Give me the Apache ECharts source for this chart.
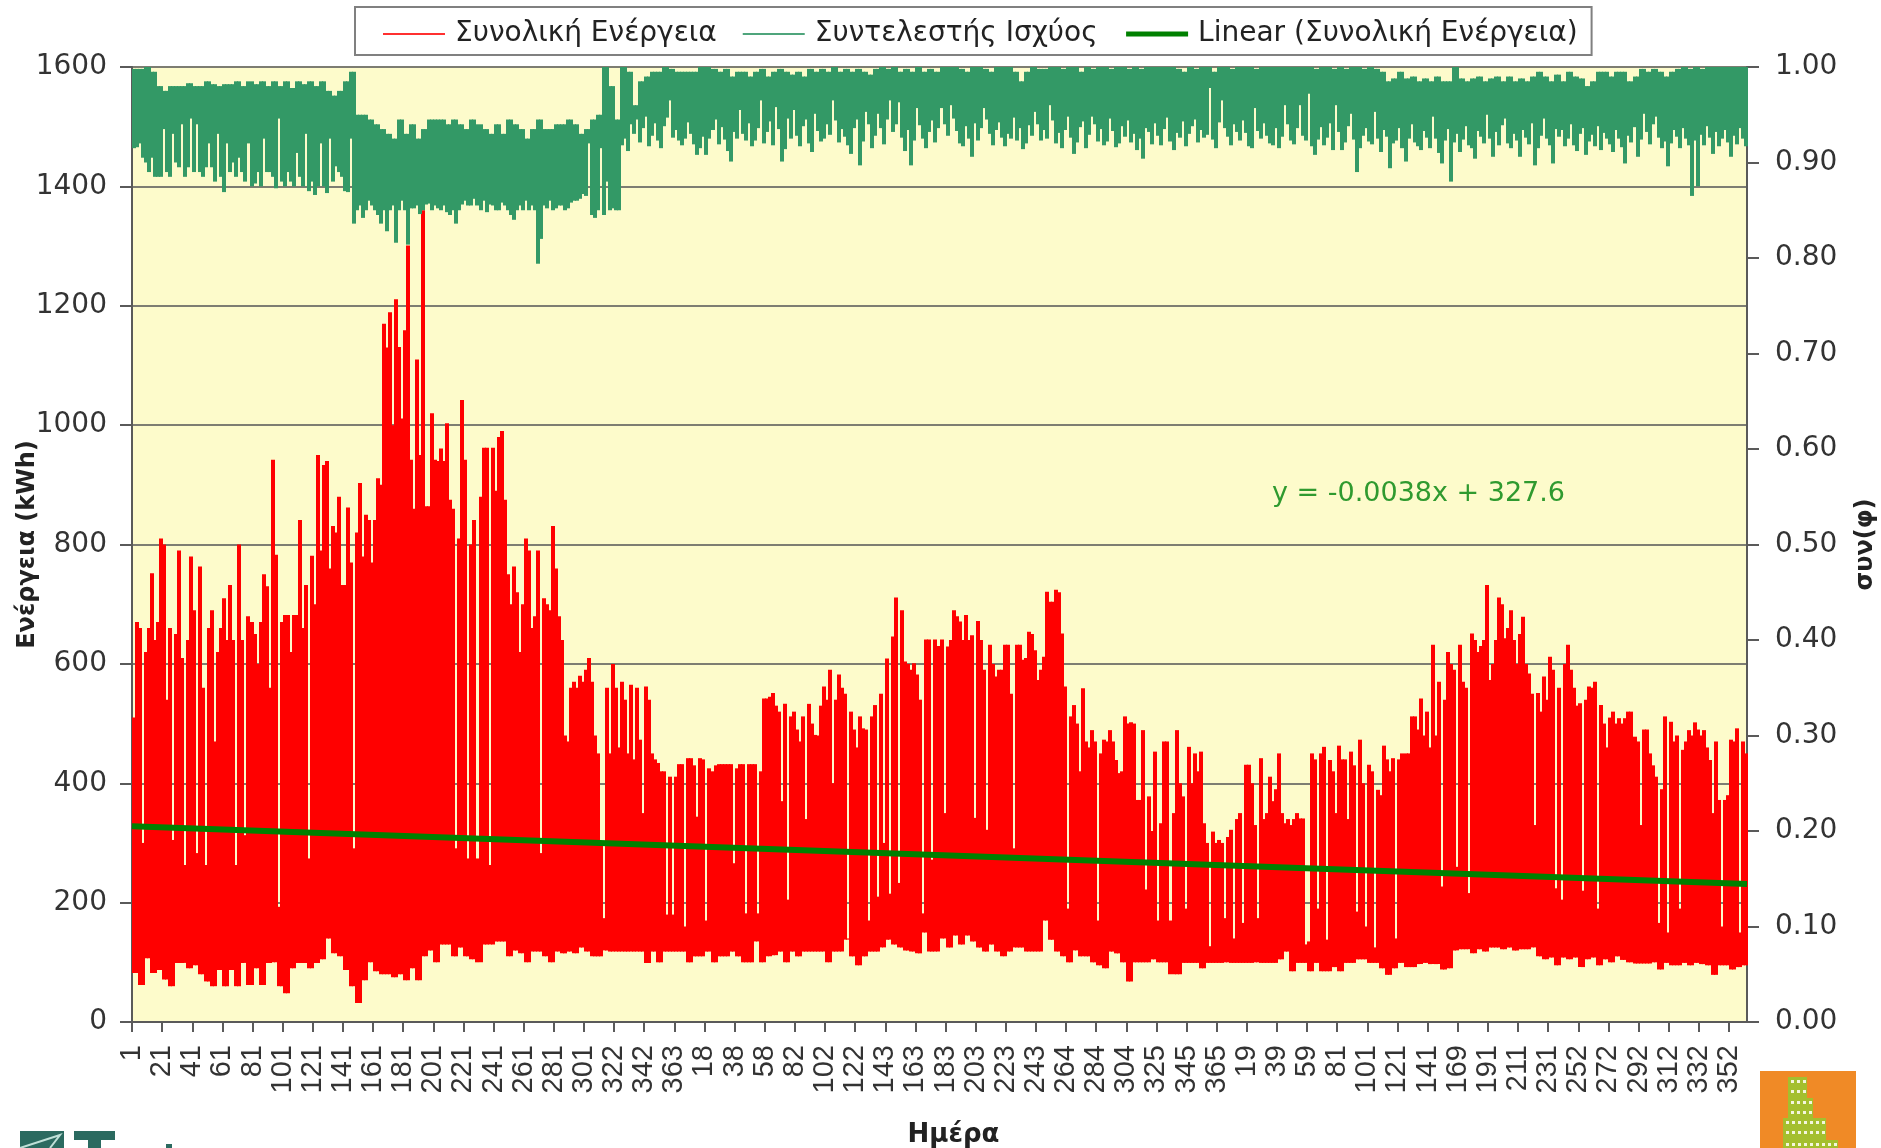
<!DOCTYPE html>
<html>
<head>
<meta charset="utf-8">
<style>html,body{margin:0;padding:0;background:#fff}#chart{width:1881px;height:1148px}</style>
<script src="https://cdn.jsdelivr.net/npm/echarts@6/dist/echarts.min.js"></script>
</head>
<body>
<div id="chart"></div>
<script>
// tick labels, one every 10 columns
const dayTicks = [1,21,41,61,81,101,121,141,161,181,201,221,241,261,281,301,322,342,363,18,38,58,82,102,122,143,163,183,203,223,243,264,284,304,325,345,365,19,39,59,81,101,121,141,169,191,211,231,252,272,292,312,332,352];

// Συνολική Ενέργεια: top of each column (kWh)
const energyHigh = [
510,670,660,300,620,660,752,640,670,810,
800,540,660,305,650,790,610,263,640,780,
690,283,763,560,263,660,690,470,620,660,
710,640,732,640,263,800,640,313,680,670,
650,600,670,750,730,560,942,783,193,670,
682,682,620,682,682,841,660,732,274,781,
700,950,790,933,940,760,831,820,880,732,
732,862,770,291,820,903,780,850,841,770,
841,911,900,1170,1130,1189,1000,1211,1131,1011,
1159,1301,942,860,1110,950,1360,864,864,1020,
942,940,961,940,1003,875,860,291,810,1042,
942,274,800,841,274,880,962,962,263,962,
890,980,990,875,750,700,763,720,620,700,
810,790,660,680,790,283,710,700,690,831,
760,680,640,480,470,560,570,560,580,570,
590,610,570,480,450,300,174,560,450,600,
560,460,570,540,450,565,440,560,473,350,
562,540,450,440,434,420,420,180,411,180,
411,432,432,160,442,442,430,344,442,440,
170,425,420,430,432,432,432,432,432,266,
425,432,432,182,432,432,432,182,420,542,
542,545,551,530,520,370,533,205,512,520,
490,470,512,340,533,500,481,480,530,562,
540,590,400,540,582,560,550,140,520,490,
460,512,492,490,170,512,531,210,550,300,
609,215,646,711,233,690,604,600,590,601,
582,540,182,641,641,272,641,630,641,350,
629,640,690,680,671,640,682,640,648,342,
672,640,590,322,632,600,579,590,590,632,
632,550,291,632,632,607,610,654,650,623,
573,590,612,721,704,704,724,720,651,562,
190,512,531,500,420,559,470,460,489,470,
170,450,473,470,489,470,439,417,420,512,
500,502,500,372,372,489,222,378,320,453,
170,333,470,470,170,350,489,400,378,190,
461,400,450,420,453,333,300,127,319,300,
305,300,174,310,322,140,340,350,166,431,
431,400,330,174,442,340,350,411,370,390,
450,350,333,340,330,340,350,341,341,130,
135,450,440,190,450,461,138,439,420,350,
463,440,440,340,453,430,185,473,400,160,
431,420,125,389,380,463,440,420,442,140,
440,450,450,450,512,512,490,542,480,520,
460,632,480,570,227,540,620,600,590,260,
632,570,560,216,651,640,620,630,640,732,
573,600,640,711,700,643,660,690,640,600,
650,679,600,584,550,330,551,520,579,540,
612,590,224,560,205,600,632,590,560,530,
534,220,540,562,560,570,190,531,500,460,
510,520,500,509,500,509,520,520,478,470,
330,490,490,450,430,411,166,390,512,150,
503,470,480,190,456,470,489,480,502,490,
480,489,460,439,350,470,372,160,372,380,
473,470,492,150,470,450
];

// Συνολική Ενέργεια: bottom of the columns, one value per two columns (kWh)
const energyLow = [
82,62,107,82,87,71,60,99,99,90,
95,80,68,60,87,60,87,60,99,62,
90,62,99,100,60,48,90,99,99,90,
99,105,140,115,110,87,60,32,70,100,
85,80,80,75,80,70,90,70,110,120,
100,130,130,110,125,110,105,100,130,130,
135,135,110,120,115,100,118,118,110,100,
118,115,118,115,125,118,110,110,120,118,
118,118,118,118,118,99,118,100,118,118,
118,118,100,110,110,118,100,110,110,118,
110,100,100,135,100,110,112,118,100,118,
110,118,118,118,118,100,118,118,138,110,
95,110,118,118,125,138,130,125,120,118,
115,150,118,118,140,125,145,130,145,135,
125,118,130,118,110,118,125,125,118,118,
118,170,138,118,110,100,120,110,110,100,
95,90,118,115,100,68,100,100,100,105,
100,100,80,80,99,99,99,90,99,99,
99,100,99,99,99,99,100,99,99,99,
105,118,85,99,99,85,99,85,85,92,
85,99,99,105,105,99,99,90,79,90,
99,92,92,97,99,97,97,88,90,120,
122,122,115,122,118,125,125,122,125,120,
122,122,125,110,105,108,95,108,105,108,
92,105,108,95,105,100,110,104,100,98,
98,98,100,88,99,95,95,99,95,99,
97,95,79,95,95,88,92,95,100
];

// Συντελεστής Ισχύος: bottom of each column
const pfLow = [
.915,.916,.92,.905,.9,.89,.905,.885,.885,.885,
.935,.89,.885,.93,.9,.895,.94,.885,.895,.946,
.89,.94,.89,.885,.895,.92,.895,.88,.93,.885,
.869,.92,.89,.9,.885,.905,.89,.88,.92,.875,
.878,.89,.875,.925,.89,.89,.885,.873,.946,.88,
.875,.89,.88,.875,.91,.885,.875,.93,.87,.88,
.866,.875,.92,.875,.868,.925,.88,.896,.89,.885,
.87,.869,.925,.836,.85,.855,.842,.85,.86,.855,
.85,.845,.836,.85,.828,.85,.855,.816,.85,.86,
.85,.814,.852,.852,.855,.846,.85,.856,.857,.85,
.855,.852,.85,.855,.848,.845,.85,.836,.85,.856,
.86,.855,.855,.862,.855,.85,.86,.848,.856,.855,
.85,.85,.858,.855,.85,.845,.84,.85,.855,.85,
.86,.85,.855,.85,.794,.82,.855,.852,.86,.85,
.852,.855,.855,.85,.852,.858,.86,.86,.862,.867,
.865,.92,.845,.842,.85,.915,.845,.88,.85,.852,
.85,.85,.918,.925,.912,.94,.93,.945,.921,.936,
.948,.917,.928,.941,.923,.915,.938,.947,.965,.926,
.934,.923,.918,.925,.942,.93,.919,.908,.915,.927,
.908,.925,.934,.945,.919,.937,.924,.912,.901,.932,
.925,.955,.93,.923,.941,.917,.923,.936,.965,.92,
.932,.943,.918,.958,.935,.901,.914,.946,.925,.955,
.928,.917,.938,.945,.92,.911,.951,.933,.922,.925,
.94,.929,.965,.944,.921,.935,.927,.918,.909,.936,
.945,.897,.922,.953,.94,.915,.928,.951,.936,.919,
.945,.965,.932,.94,.963,.926,.912,.934,.897,.923,
.957,.939,.925,.915,.932,.944,.921,.936,.957,.94,
.928,.96,.946,.933,.92,.917,.938,.925,.906,.941,
.923,.936,.957,.945,.93,.918,.934,.942,.926,.917,
.93,.925,.947,.923,.936,.914,.92,.939,.928,.953,
.94,.923,.934,.925,.96,.944,.92,.931,.915,.934,
.948,.926,.909,.921,.937,.943,.915,.929,.948,.94,
.922,.935,.918,.922,.946,.933,.916,.92,.938,.927,
.944,.921,.93,.913,.925,.904,.936,.932,.919,.941,
.928,.918,.935,.947,.922,.913,.931,.926,.943,.917,
.93,.938,.945,.921,.934,.926,.929,.978,.924,.915,
.942,.965,.936,.927,.918,.94,.932,.923,.944,.931,
.917,.915,.957,.933,.925,.941,.928,.92,.918,.936,
.915,.927,.96,.94,.923,.919,.936,.96,.928,.923,
.972,.917,.908,.924,.937,.918,.926,.941,.913,.96,
.932,.913,.921,.938,.951,.924,.89,.915,.928,.936,
.922,.919,.953,.925,.911,.934,.927,.894,.92,.923,
.936,.915,.901,.925,.94,.921,.917,.913,.933,.926,
.915,.948,.925,.91,.899,.923,.935,.88,.921,.93,
.911,.924,.938,.918,.915,.904,.933,.927,.92,.95,
.925,.906,.932,.918,.939,.946,.92,.915,.93,.923,
.906,.934,.926,.919,.941,.897,.915,.928,.946,.925,
.918,.899,.935,.927,.934,.917,.925,.94,.918,.912,
.93,.936,.908,.922,.929,.917,.938,.913,.931,.925,
.919,.911,.934,.925,.916,.899,.928,.921,.937,.906,
.924,.951,.932,.919,.94,.948,.926,.915,.922,.896,
.92,.934,.927,.915,.936,.925,.918,.865,.923,.875,
.929,.918,.938,.926,.909,.932,.917,.925,.934,.921,
.906,.928,.919,.936,.925,.917
];

// Συντελεστής Ισχύος: top of the columns, one value per two columns
const pfHigh = [
.998,.998,1,.995,.98,.975,.98,.98,.98,.983,
.98,.98,.985,.982,.98,.982,.982,.985,.98,.985,
.982,.985,.98,.985,.98,.985,.978,.985,.982,.985,
.98,.985,.975,.97,.975,.985,.995,.95,.95,.945,
.94,.935,.93,.925,.945,.93,.94,.925,.935,.945,
.945,.945,.94,.945,.94,.935,.945,.94,.935,.93,
.94,.93,.945,.94,.935,.925,.935,.945,.935,.935,
.94,.94,.945,.94,.93,.935,.945,.95,1,.98,
.945,1,.995,.96,.985,.99,.995,.995,1,.998,
.995,.995,.995,.995,1,1,.998,.995,.998,.99,
.995,.995,.99,.995,.998,.99,.995,.998,.995,.992,
.995,.99,.998,.995,.998,.995,1,.995,.998,.995,
.998,.995,.992,.998,1,.998,1,.995,.998,.995,
1,.995,.998,.995,1,1,1,.998,.995,1,
1,.998,.995,1,1,1,.995,.985,.995,1,
.998,.998,1,1,.998,1,1,.995,1,.998,
1,1,.998,1,1,.998,1,.998,1,1,
1,1,1,.998,.995,1,.998,1,1,.995,
1,1,.998,1,1,1,.998,1,1,1,
1,1,1,1,1,1,.998,1,1,.998,
1,.998,1,1,.998,1,.998,.995,.985,.988,
.995,.988,.99,.985,.988,.985,.99,.985,.985,1,
.988,.985,.988,.99,.985,.988,.99,.985,.99,.985,
.988,.985,.99,.995,.99,.985,.992,.985,.995,.99,
.988,.98,.985,.995,.995,.99,.995,.995,.985,.99,
.998,.995,.998,.995,.99,.995,.998,1,.998,1,
.998,1,1,1,1,1,1,1,1
];

// Linear (Συνολική Ενέργεια), y = -0.0038x + 327.6
const trendValues = [[0, 328], [536, 231]];

const yTicksLeft = { min: 0, max: 1600, interval: 200 };
const yTicksRight = { min: 0, max: 1, interval: 0.1 };

const categories = [];
for (let i = 0; i <= 536; i++) {
  categories.push(i % 10 === 0 ? String(dayTicks[i / 10]) : '');
}

const energyRows = energyHigh.map(function (v, i) {
  return [i, v, energyLow[Math.min(i >> 1, energyLow.length - 1)]];
});
const pfRows = pfLow.map(function (v, i) {
  return [i, pfHigh[Math.min(i >> 1, pfHigh.length - 1)], v];
});

function columnItem(color) {
  return function (params, api) {
    const top = api.coord([api.value(0), api.value(1)]);
    const bottom = api.coord([api.value(0), api.value(2)]);
    const w = api.size([1, 0])[0];
    return {
      type: 'rect',
      shape: { x: Math.round(top[0]), y: top[1], width: Math.ceil(w), height: bottom[1] - top[1] },
      style: { fill: color }
    };
  };
}

const font = 'DejaVu Sans';
const axisColor = '#5a5a5a';

// orange badge, bottom right
const badge = [{ type: 'rect', shape: { x: 1760, y: 1071, width: 96, height: 77 }, style: { fill: '#F08A26' } }];
[[1788, 1077, 19, 21], [1788, 1098, 25, 20], [1783, 1118, 43, 22], [1783, 1140, 55, 8]].forEach(function (b) {
  badge.push({ type: 'rect', shape: { x: b[0], y: b[1], width: b[2], height: b[3] }, style: { fill: '#A4BF2E' } });
  for (let y = b[1] + 3; y < b[1] + b[3]; y += 10) {
    for (let x = b[0] + 3; x < b[0] + b[2] - 2; x += 6) {
      badge.push({ type: 'rect', shape: { x: x, y: y, width: 3, height: 3 }, style: { fill: '#f4f6dc' } });
    }
  }
});

const chart = echarts.init(document.getElementById('chart'));
chart.setOption({
  animation: false,
  backgroundColor: '#ffffff',
  textStyle: { fontFamily: font },
  legend: {
    left: 355,
    top: 7,
    padding: [13, 14, 7, 28],
    itemWidth: 62,
    itemHeight: 2,
    itemGap: 26,
    backgroundColor: '#ffffff',
    borderColor: '#808080',
    borderWidth: 2,
    textStyle: { fontFamily: font, fontSize: 28, color: '#222', padding: [0, 0, 0, 5] },
    data: [
      { name: 'Συνολική Ενέργεια', icon: 'rect', itemStyle: { color: '#ff3030' } },
      { name: 'Συντελεστής Ισχύος', icon: 'rect', itemStyle: { color: '#4fa57c' } },
      { name: 'Linear (Συνολική Ενέργεια)', lineStyle: { color: '#008000', width: 5 } }
    ]
  },
  grid: {
    left: 132, right: 134, top: 67, bottom: 126,
    outerBoundsMode: 'none',
    show: true,
    backgroundColor: '#FDFBCB',
    borderColor: axisColor,
    borderWidth: 0
  },
  xAxis: {
    type: 'category',
    boundaryGap: false,
    data: categories,
    name: 'Ημέρα',
    nameLocation: 'middle',
    nameGap: 100,
    nameTextStyle: { fontFamily: font, fontSize: 26, fontWeight: 'bold', color: '#222', padding: [0, 0, 0, 28] },
    axisLine: { lineStyle: { color: axisColor, width: 2 } },
    axisTick: { interval: 9, length: 10, lineStyle: { color: axisColor, width: 2 } },
    axisLabel: {
      interval: 9, rotate: 90, margin: 23, fontFamily: 'Liberation Sans', fontSize: 29, color: '#333',
      hideOverlap: false
    },
    splitLine: { show: false }
  },
  yAxis: [{
    type: 'value',
    min: yTicksLeft.min, max: yTicksLeft.max, interval: yTicksLeft.interval,
    name: 'Ενέργεια (kWh)',
    nameLocation: 'middle',
    nameRotate: 90,
    nameGap: 92,
    nameMoveOverlap: false,
    nameTextStyle: { fontFamily: font, fontSize: 24, fontWeight: 'bold', color: '#222' },
    axisLine: { show: true, lineStyle: { color: axisColor, width: 2 } },
    axisTick: { show: true, length: 12, lineStyle: { color: axisColor, width: 2 } },
    axisLabel: {
      margin: 25, fontFamily: font, fontSize: 28, color: '#333', padding: [10, 0, 0, 0],
      formatter: function (v) { return String(v); }
    },
    splitLine: { show: true, lineStyle: { color: '#7d7d72', width: 2 } }
  }, {
    type: 'value',
    min: yTicksRight.min, max: yTicksRight.max, interval: yTicksRight.interval,
    name: 'συν(φ)',
    nameLocation: 'middle',
    nameRotate: 90,
    nameGap: 107,
    nameTextStyle: { fontFamily: font, fontSize: 24, fontWeight: 'bold', color: '#222' },
    axisLine: { show: true, lineStyle: { color: axisColor, width: 2 } },
    axisTick: { show: true, length: 12, lineStyle: { color: axisColor, width: 2 } },
    axisLabel: {
      margin: 28, fontFamily: font, fontSize: 28, color: '#333', padding: [10, 0, 0, 0],
      formatter: function (v) { return v.toFixed(2); }
    },
    splitLine: { show: false }
  }],
  series: [{
    name: 'Συνολική Ενέργεια',
    type: 'custom',
    yAxisIndex: 0,
    silent: true,
    z: 2,
    encode: { x: 0, y: [1, 2] },
    renderItem: columnItem('#ff0000'),
    data: energyRows
  }, {
    name: 'Συντελεστής Ισχύος',
    type: 'custom',
    yAxisIndex: 1,
    silent: true,
    z: 3,
    encode: { x: 0, y: [1, 2] },
    renderItem: columnItem('#339966'),
    data: pfRows
  }, {
    name: 'Linear (Συνολική Ενέργεια)',
    type: 'line',
    yAxisIndex: 0,
    silent: true,
    z: 4,
    symbol: 'none',
    lineStyle: { color: '#008000', width: 6 },
    itemStyle: { color: '#008000' },
    data: trendValues
  }],
  graphic: [{
    type: 'text',
    left: 1272,
    top: 480,
    style: { text: 'y = -0.0038x + 327.6', font: '27px "DejaVu Sans"', fill: '#2f9a2f' }
  }, {
    type: 'group',
    children: badge
  }, {
    type: 'group',
    children: [
      { type: 'rect', shape: { x: 20, y: 1131, width: 44, height: 17 }, style: { fill: '#2b6a60' } },
      { type: 'polyline', shape: { points: [[20, 1148], [60, 1135], [50, 1148]] }, style: { stroke: '#bfe0d8', fill: null, lineWidth: 2 } },
      { type: 'rect', shape: { x: 74, y: 1131, width: 41, height: 9 }, style: { fill: '#2b6a60' } },
      { type: 'rect', shape: { x: 88, y: 1131, width: 13, height: 17 }, style: { fill: '#2b6a60' } },
      { type: 'rect', shape: { x: 166, y: 1144, width: 6, height: 4 }, style: { fill: '#2b6a60' } }
    ]
  }]
});
</script>
</body>
</html>
